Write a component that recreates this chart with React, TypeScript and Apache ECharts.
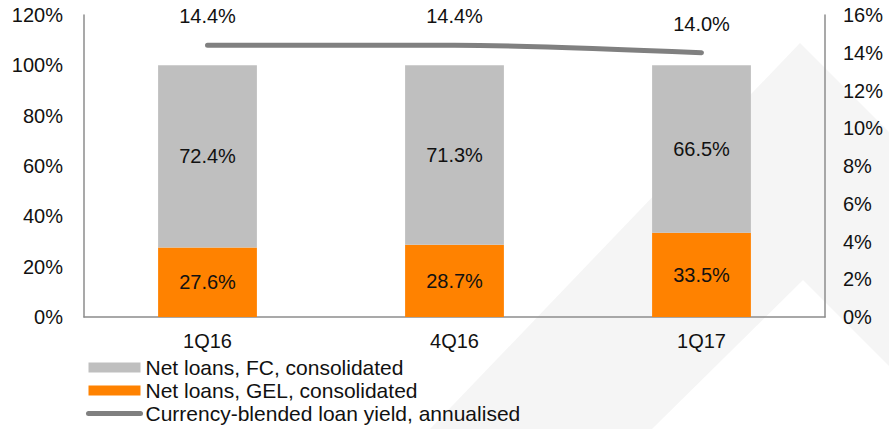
import React, { useEffect, useRef } from "react";
import * as echarts from "echarts";

const categories = ["1Q16", "4Q16", "1Q17"];
const gelShare = [27.6, 28.7, 33.5];
const fcShare = [72.4, 71.3, 66.5];
const loanYield = [14.4, 14.4, 14.0];
const seriesNames = [
  "Net loans, FC, consolidated",
  "Net loans, GEL, consolidated",
  "Currency-blended loan yield, annualised",
];

const FONT = "'Liberation Sans', Arial, sans-serif";

export default function App() {
  const ref = useRef<HTMLDivElement>(null);
  useEffect(() => {
    if (!ref.current) return;
    const chart = echarts.init(ref.current, null, { renderer: "svg" });
    const axisLine = { show: true, lineStyle: { color: "#8c8c8c", width: 1.5 } };
    const pct = (p: any) => Number(p.value).toFixed(1) + "%";
    chart.setOption({
      animation: false,
      backgroundColor: "#ffffff",
      textStyle: { fontFamily: FONT },
      graphic: [
        {
          type: "polygon",
          z: -10,
          silent: true,
          shape: { points: [[430, 429], [800, 43], [889, 132], [889, 429]] },
          style: { fill: "#f5f5f5" },
        },
        {
          type: "polygon",
          z: -9,
          silent: true,
          shape: { points: [[652, 429], [803, 280], [889, 366], [889, 429]] },
          style: { fill: "#ffffff" },
        },
      ],
      grid: { left: 84, right: 64, top: 15, bottom: 112, containLabel: false },
      legend: {
        orient: "vertical",
        left: 86,
        top: 357,
        height: 200,
        padding: 0,
        itemWidth: 52,
        itemHeight: 10,
        itemGap: 2,
        textStyle: { fontSize: 21, color: "#111", fontFamily: FONT, lineHeight: 19 },
        data: [
          { name: seriesNames[0], icon: "rect" },
          { name: seriesNames[1], icon: "rect" },
          {
            name: seriesNames[2],
            itemStyle: { color: "#808080", opacity: 0 },
            lineStyle: { width: 5, cap: "round", color: "#808080", opacity: 1 },
          },
        ],
      },
      xAxis: {
        type: "category",
        data: categories,
        axisLine,
        axisTick: { show: false },
        axisLabel: { fontSize: 20, color: "#111", margin: 14, fontFamily: FONT },
      },
      yAxis: [
        {
          type: "value",
          min: 0,
          max: 120,
          interval: 20,
          axisLine,
          axisTick: { show: false },
          splitLine: { show: false },
          axisLabel: { fontSize: 20, color: "#111", margin: 21, formatter: "{value}%", fontFamily: FONT },
        },
        {
          type: "value",
          min: 0,
          max: 16,
          interval: 2,
          position: "right",
          axisLine,
          axisTick: { show: false },
          splitLine: { show: false },
          axisLabel: { fontSize: 20, color: "#111", margin: 18, formatter: "{value}%", fontFamily: FONT },
        },
      ],
      series: [
        {
          name: seriesNames[1],
          type: "bar",
          stack: "loans",
          barWidth: "40%",
          data: gelShare,
          itemStyle: { color: "#ff8200" },
          label: { show: true, position: "inside", fontSize: 20, color: "#111", fontFamily: FONT, formatter: pct },
        },
        {
          name: seriesNames[0],
          type: "bar",
          stack: "loans",
          barWidth: "40%",
          data: fcShare,
          itemStyle: { color: "#bfbfbf" },
          label: { show: true, position: "inside", fontSize: 20, color: "#111", fontFamily: FONT, formatter: pct },
        },
        {
          name: seriesNames[2],
          type: "line",
          yAxisIndex: 1,
          data: loanYield,
          smooth: 0.3,
          symbol: "circle",
          symbolSize: 2,
          showSymbol: true,
          lineStyle: { color: "#808080", width: 5, cap: "round" },
          itemStyle: { color: "#808080" },
          label: {
            show: true,
            position: "top",
            distance: 18,
            fontSize: 20,
            color: "#111",
            fontFamily: FONT,
            formatter: pct,
          },
        },
      ],
    });
    return () => chart.dispose();
  }, []);
  return (
    <div
      ref={ref}
      style={{ position: "fixed", left: 0, top: 0, width: 889, height: 429 }}
    />
  );
}
